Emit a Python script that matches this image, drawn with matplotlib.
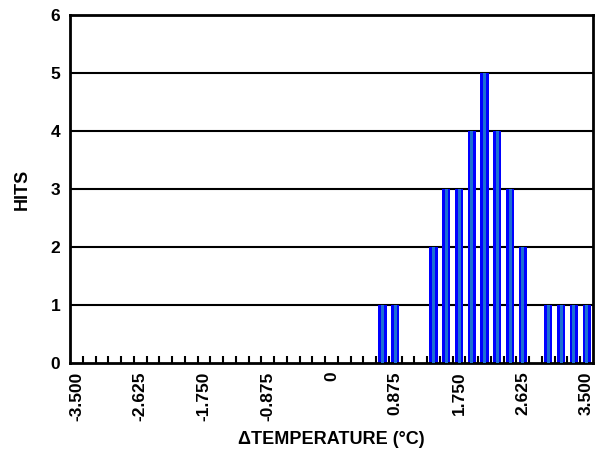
import numpy as np
import matplotlib
matplotlib.use("Agg")
import matplotlib.pyplot as plt

plt.rcParams['font.family'] = ['Liberation Sans', 'DejaVu Sans']
plt.rcParams['font.weight'] = 'bold'

# Data
bin_centers = [0.700, 0.875, 1.400, 1.575, 1.750, 1.925, 2.100, 2.275, 2.450, 2.625,
               2.975, 3.150, 3.325, 3.500]
hits = [1, 1, 2, 3, 3, 4, 5, 4, 3, 2, 1, 1, 1, 1]
tick_values = [-3.500, -2.625, -1.750, -0.875, 0.0, 0.875, 1.750, 2.625, 3.500]
tick_labels = ['-3.500', '-2.625', '-1.750', '-0.875', '0', '0.875', '1.750', '2.625', '3.500']
y_ticks = [0, 1, 2, 3, 4, 5, 6]
bin_step = 0.175

fig = plt.figure(figsize=(5.99, 4.53), dpi=100)
ax = fig.add_axes([70/599, 90/453, 523/599, 348/453])

half = bin_step / 2
ax.set_xlim(-3.5 - half, 3.5 + half)
ax.set_ylim(0, 6)

for y in y_ticks[1:]:
    ax.axhline(y, color='black', lw=1.5, zorder=1)

ax.bar(bin_centers, hits, width=bin_step * 0.64, color='#0000ff', zorder=2, linewidth=0)
ax.bar(bin_centers, hits, width=bin_step * 0.24, color='#1c6fd2', zorder=3, linewidth=0)

ax.set_xticks(tick_values)
ax.set_xticklabels(tick_labels, rotation=90, fontsize=12.5, fontweight='bold')
ax.tick_params(axis='x', which='major', length=0, pad=6)
ax.set_xticks(np.arange(-3.5 + half, 3.5, bin_step), minor=True)
ax.tick_params(axis='x', which='minor', direction='in', length=5, width=1.5, color='black')

ax.set_yticks(y_ticks)
ax.set_yticklabels([str(v) for v in y_ticks], fontsize=12.5, fontweight='bold')
ax.tick_params(axis='y', length=0, pad=7)

for s in ax.spines.values():
    s.set_linewidth(2)
    s.set_color('black')

ax.set_xlabel('ΔTEMPERATURE (°C)', fontsize=13, fontweight='bold', labelpad=7)
ax.set_ylabel('HITS', fontsize=13, fontweight='bold', labelpad=14)

fig.savefig('out.png', dpi=100)
